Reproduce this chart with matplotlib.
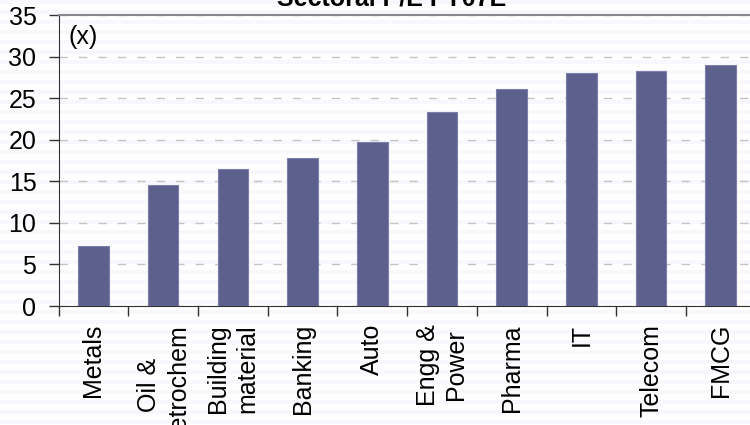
import matplotlib
matplotlib.use("Agg")
import matplotlib.pyplot as plt
from matplotlib.patches import Rectangle
from matplotlib.ticker import FixedLocator

categories = ["Metals", "Oil &\nPetrochem", "Building\nmaterial", "Banking", "Auto",
              "Engg &\nPower", "Pharma", "IT", "Telecom", "FMCG"]
values = [7.2, 14.5, 16.5, 17.8, 19.7, 23.3, 26.1, 28.0, 28.3, 29.0]
yticks = [0, 5, 10, 15, 20, 25, 30, 35]
title = "Sectoral P/E FY07E"
unit = "(x)"

W, H = 750, 425
fig = plt.figure(figsize=(7.5, 4.25), dpi=100)
fig.patch.set_facecolor("white")

# faint slide stripes
for y0 in range(0, H, 10):
    fig.patches.append(Rectangle((0, 1 - (y0 + 4) / H), 1, 4 / H, transform=fig.transFigure,
                                 facecolor="#f7f7fc", edgecolor="none", zorder=-10))

font = "Liberation Sans"
left = 58.6 / W
right = 755.6 / W
bottom = 1 - 306 / H
top = 1 - 15 / H
ax = fig.add_axes([left, bottom, right - left, top - bottom])
ax.patch.set_alpha(0)

x = list(range(len(categories)))
ax.bar(x, values, width=0.44, color="#5d5f8d", edgecolor="#7b7dab", linewidth=0.8, zorder=3)

ax.set_xlim(-0.5, len(categories) - 0.5)
ax.set_ylim(0, 35)
ax.set_yticks(yticks)
ax.set_yticklabels([str(t) for t in yticks], fontsize=18, family=font)
ax.yaxis.grid(True, linestyle=(0, (6, 8)), color="#c4c4c4", linewidth=1, zorder=0)
ax.tick_params(axis="y", direction="out", length=7, width=1, color="#333333", pad=9)

ax.set_xticks(x)
ax.set_xticklabels(categories, rotation=90, fontsize=18, family=font,
                   ha="center", va="top", multialignment="center", linespacing=1.25)
ax.tick_params(axis="x", which="major", length=0, pad=13)
ax.xaxis.set_minor_locator(FixedLocator([i + 0.5 for i in range(-1, len(categories))]))
ax.tick_params(axis="x", which="minor", direction="out", length=7, width=1, color="#333333")

ax.spines["right"].set_visible(False)
ax.spines["top"].set_color("#8a8a8a")
ax.spines["top"].set_linewidth(1.5)
ax.spines["left"].set_color("#333333")
ax.spines["bottom"].set_color("#333333")

fig.text(68 / W, 1 - 37 / H, unit, fontsize=18, family=font, ha="left", va="center")
fig.text(392 / W, 1 - 5 / H, title, fontsize=18, family=font, fontweight="bold",
         ha="center", va="baseline")

fig.savefig("out.png", dpi=100)
